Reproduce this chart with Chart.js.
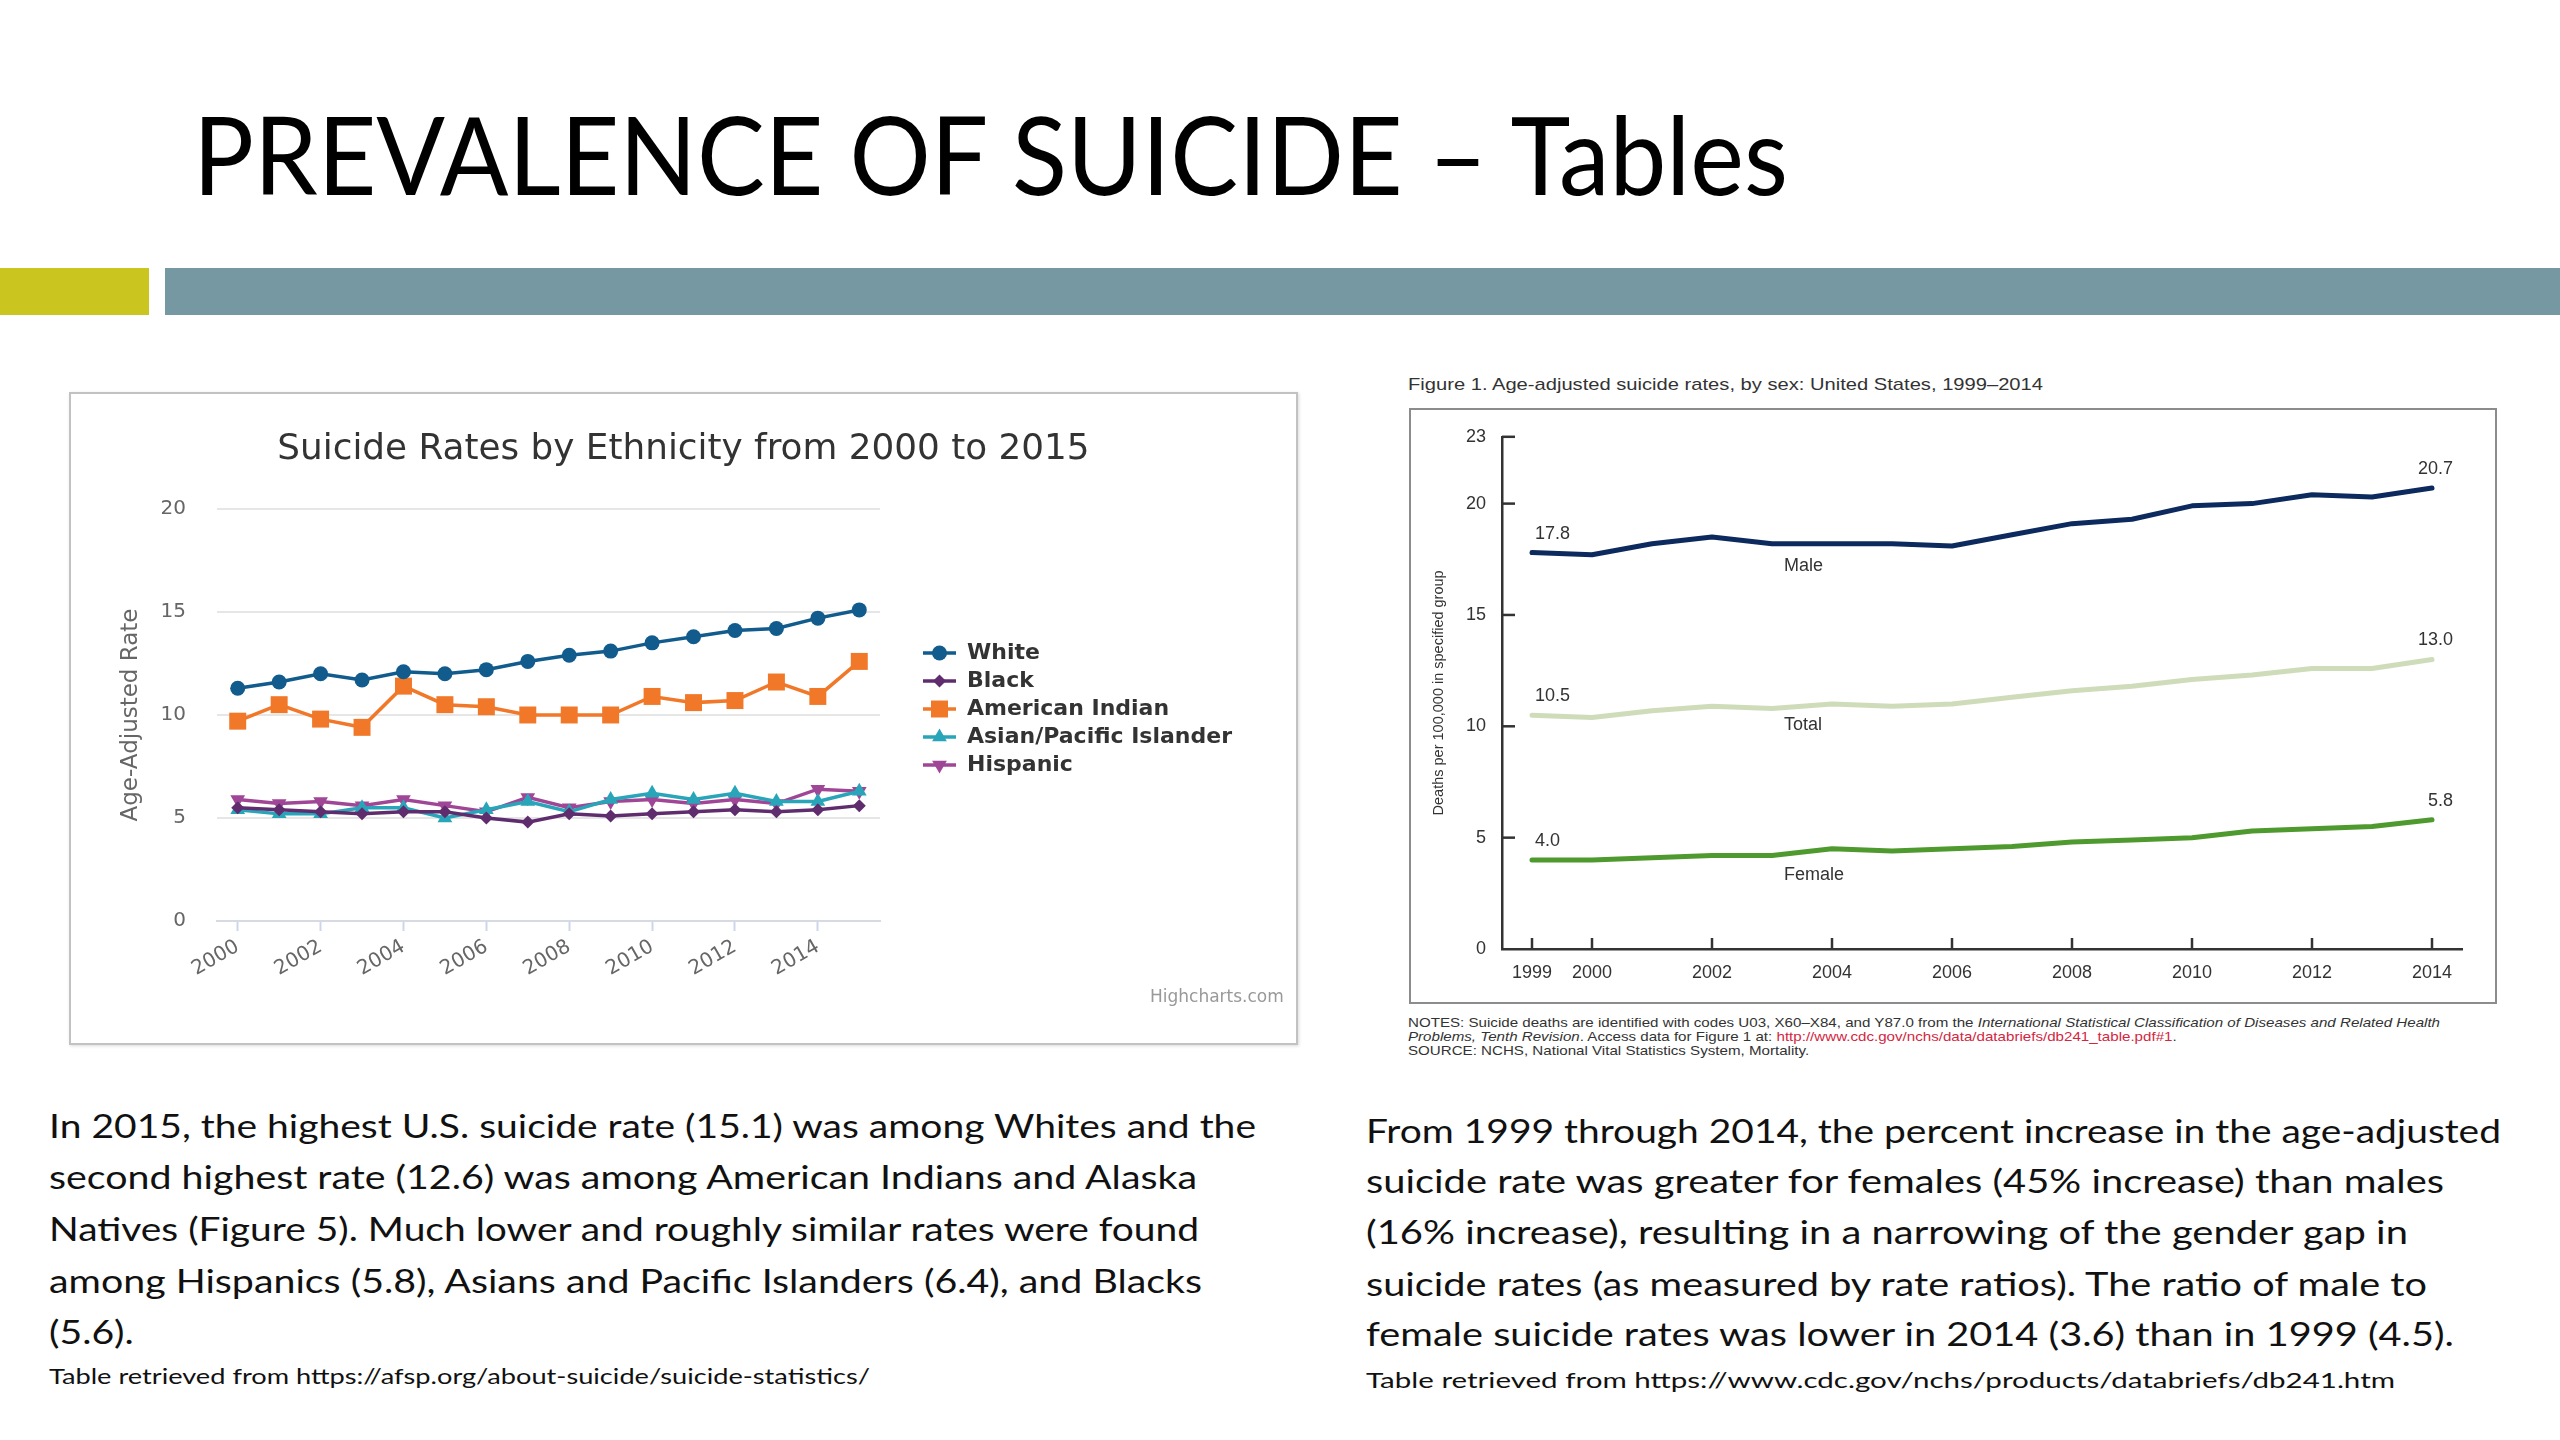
<!DOCTYPE html>
<html><head><meta charset="utf-8">
<script src="https://cdn.jsdelivr.net/npm/chart.js@4.4.1/dist/chart.umd.min.js"></script>
<style>
html,body{margin:0;padding:0;background:#fff;}
body{width:2560px;height:1440px;position:relative;overflow:hidden;font-family:Lato,"Open Sans",sans-serif;color:#111;}
.abs{position:absolute;white-space:nowrap;line-height:1.2;}
.fit{transform-origin:0 50%;}
.p{font-size:33px;color:#111;}
.src{font-size:21px;color:#111;}
.note{font-family:"Liberation Sans",sans-serif;font-size:13px;color:#333;}
</style></head><body>

<div class="abs fit" data-g="title" data-w="1595" style="left:193px;top:89px;font-size:108px;color:#000;">PREVALENCE OF SUICIDE – Tables</div>
<div class="abs" style="left:0;top:268px;width:149px;height:47px;background:#cbc520;"></div>
<div class="abs" style="left:165px;top:268px;width:2395px;height:47px;background:#7698a3;"></div>

<div class="abs" style="left:69px;top:392px;width:1229px;height:653px;box-sizing:border-box;border:2px solid #c2c2c2;box-shadow:1px 1px 3px rgba(0,0,0,0.15);">
  <canvas id="c1" width="1225" height="649" style="position:absolute;left:0;top:0;"></canvas>
</div>
<div class="abs" style="left:1150px;top:986px;font-family:'DejaVu Sans';font-size:17px;color:#999;width:107px;text-align:right;">Highcharts.com</div>

<div class="abs fit note" data-g="cap" data-w="635" style="left:1408px;top:375px;font-size:17px;">Figure 1. Age-adjusted suicide rates, by sex: United States, 1999–2014</div>
<div class="abs" style="left:1409px;top:408px;width:1088px;height:596px;box-sizing:border-box;border:2px solid #8c8c8c;">
  <canvas id="c2" width="1084" height="592" style="position:absolute;left:0;top:0;"></canvas>
</div>
<div class="abs fit note" data-g="note" data-w="1032" style="left:1408px;top:1015px;">NOTES: Suicide deaths are identified with codes U03, X60–X84, and Y87.0 from the <i>International Statistical Classification of Diseases and Related Health</i></div>
<div class="abs fit note" data-g="note" style="left:1408px;top:1029px;"><i>Problems, Tenth Revision</i>. Access data for Figure 1 at: <span style="color:#d3263f">http://www.cdc.gov/nchs/data/databriefs/db241_table.pdf#1</span>.</div>
<div class="abs fit note" data-g="note" style="left:1408px;top:1043px;">SOURCE: NCHS, National Vital Statistics System, Mortality.</div>

<div class="abs fit p" data-g="pl" data-w="1207" style="left:49px;top:1106px;">In 2015, the highest U.S. suicide rate (15.1) was among Whites and the</div>
<div class="abs fit p" data-g="pl" data-w="1148" style="left:49px;top:1157px;">second highest rate (12.6) was among American Indians and Alaska</div>
<div class="abs fit p" data-g="pl" data-w="1150" style="left:49px;top:1209px;">Natives (Figure 5). Much lower and roughly similar rates were found</div>
<div class="abs fit p" data-g="pl" data-w="1153" style="left:49px;top:1261px;">among Hispanics (5.8), Asians and Pacific Islanders (6.4), and Blacks</div>
<div class="abs fit p" data-g="pl" style="left:49px;top:1312px;">(5.6).</div>
<div class="abs fit src" data-g="sl" data-w="821" style="left:49px;top:1363px;">Table retrieved from https://afsp.org/about-suicide/suicide-statistics/</div>

<div class="abs fit p" data-g="pr" data-w="1135" style="left:1366px;top:1111px;">From 1999 through 2014, the percent increase in the age-adjusted</div>
<div class="abs fit p" data-g="pr" data-w="1078" style="left:1366px;top:1161px;">suicide rate was greater for females (45% increase) than males</div>
<div class="abs fit p" data-g="pr" data-w="1042" style="left:1366px;top:1212px;">(16% increase), resulting in a narrowing of the gender gap in</div>
<div class="abs fit p" data-g="pr" data-w="1061" style="left:1366px;top:1264px;">suicide rates (as measured by rate ratios). The ratio of male to</div>
<div class="abs fit p" data-g="pr" data-w="1088" style="left:1366px;top:1314px;">female suicide rates was lower in 2014 (3.6) than in 1999 (4.5).</div>
<div class="abs fit src" data-g="sr" data-w="1029" style="left:1366px;top:1367px;">Table retrieved from https://www.cdc.gov/nchs/products/databriefs/db241.htm</div>

<script>
// ---------- Left chart data (Suicide Rates by Ethnicity) ----------
const years = ['2000','2001','2002','2003','2004','2005','2006','2007','2008','2009','2010','2011','2012','2013','2014','2015'];
const whiteRates    = [11.3, 11.6, 12.0, 11.7, 12.1, 12.0, 12.2, 12.6, 12.9, 13.1, 13.5, 13.8, 14.1, 14.2, 14.7, 15.1];
const blackRates    = [5.5, 5.4, 5.3, 5.2, 5.3, 5.3, 5.0, 4.8, 5.2, 5.1, 5.2, 5.3, 5.4, 5.3, 5.4, 5.6];
const amIndianRates = [9.7, 10.5, 9.8, 9.4, 11.4, 10.5, 10.4, 10.0, 10.0, 10.0, 10.9, 10.6, 10.7, 11.6, 10.9, 12.6];
const asianRates    = [5.4, 5.2, 5.2, 5.5, 5.5, 5.0, 5.4, 5.8, 5.3, 5.9, 6.2, 5.9, 6.2, 5.8, 5.8, 6.3];
const hispanicRates = [5.9, 5.7, 5.8, 5.6, 5.9, 5.6, 5.3, 6.0, 5.5, 5.8, 5.9, 5.7, 5.9, 5.7, 6.4, 6.3];
const seriesNames   = ['White', 'Black', 'American Indian', 'Asian/Pacific Islander', 'Hispanic'];
const leftYTicks    = [0, 5, 10, 15, 20];

// ---------- Right chart data (Age-adjusted suicide rates by sex) ----------
const sexYears    = [1999,2000,2001,2002,2003,2004,2005,2006,2007,2008,2009,2010,2011,2012,2013,2014];
const maleRates   = [17.8, 17.7, 18.2, 18.5, 18.2, 18.2, 18.2, 18.1, 18.6, 19.1, 19.3, 19.9, 20.0, 20.4, 20.3, 20.7];
const totalRates  = [10.5, 10.4, 10.7, 10.9, 10.8, 11.0, 10.9, 11.0, 11.3, 11.6, 11.8, 12.1, 12.3, 12.6, 12.6, 13.0];
const femaleRates = [4.0, 4.0, 4.1, 4.2, 4.2, 4.5, 4.4, 4.5, 4.6, 4.8, 4.9, 5.0, 5.3, 5.4, 5.5, 5.8];
const sexNames    = ['Male', 'Total', 'Female'];
const sexXTicks   = [1999, 2000, 2002, 2004, 2006, 2008, 2010, 2012, 2014];
const sexYTicks   = [0, 5, 10, 15, 20, 23];

// ---------- styles ----------
const leftColors = ['#115b8d', '#5f2d6e', '#f07828', '#29a5b9', '#a04696'];
const leftStyles = [
  {pointStyle:'circle', radius:7.5, rot:0},
  {pointStyle:'rectRot', radius:6.5, rot:0},
  {pointStyle:'rect', radius:12, rot:0},
  {pointStyle:'triangle', radius:8.5, rot:0},
  {pointStyle:'triangle', radius:8.5, rot:180}
];
const sexColors = ['#0c2a5e', '#cfdcba', '#4f9a2f'];

const ICON_MARGIN = 37, ICON_W = 70;
function legendIcon(color, st) {
  const c = document.createElement('canvas');
  c.width = ICON_W; c.height = 24;
  const g = c.getContext('2d');
  g.strokeStyle = color; g.lineWidth = 3.5;
  g.beginPath(); g.moveTo(ICON_MARGIN, 12); g.lineTo(ICON_W, 12); g.stroke();
  g.fillStyle = color;
  const cx = (ICON_MARGIN + ICON_W) / 2, cy = 12, r = st.radius;
  g.beginPath();
  if (st.pointStyle === 'circle') g.arc(cx, cy, r, 0, Math.PI * 2);
  else if (st.pointStyle === 'rect') { const s = r * Math.SQRT1_2; g.rect(cx - s, cy - s, 2 * s, 2 * s); }
  else if (st.pointStyle === 'rectRot') { g.moveTo(cx, cy - r); g.lineTo(cx + r, cy); g.lineTo(cx, cy + r); g.lineTo(cx - r, cy); g.closePath(); }
  else { const d = st.rot ? -1 : 1; g.moveTo(cx, cy - d * r); g.lineTo(cx + r * 0.866, cy + d * r * 0.5); g.lineTo(cx - r * 0.866, cy + d * r * 0.5); g.closePath(); }
  g.fill();
  return c;
}
const legendIcons = leftColors.map((c, i) => legendIcon(c, leftStyles[i]));

const leftSeries = [whiteRates, blackRates, amIndianRates, asianRates, hispanicRates];
const leftDatasets = leftSeries.map((vals, i) => ({
  label: seriesNames[i],
  data: vals,
  borderColor: leftColors[i],
  backgroundColor: leftColors[i],
  borderWidth: 3.5,
  pointStyle: leftStyles[i].pointStyle,
  pointRadius: leftStyles[i].radius,
  pointRotation: leftStyles[i].rot,
  pointBorderWidth: 0,
  tension: 0,
  fill: false
}));

const hl = "DejaVu Sans";
let leftYWidth = 111;
const LEG_PAD = 6;
const leftChart = new Chart(document.getElementById('c1'), {
  type: 'line',
  data: { labels: years, datasets: leftDatasets },
  options: {
    responsive: false, animation: false, devicePixelRatio: 1,
    layout: { padding: { left: 35, right: 35, top: 0, bottom: 0 } },
    plugins: {
      tooltip: { enabled: false },
      title: { display: true, text: 'Suicide Rates by Ethnicity from 2000 to 2015', color: '#333',
               font: { family: hl, size: 35.8, weight: 'normal' }, padding: { top: 34, bottom: 38 } },
      legend: {
        position: 'right', align: 'start', maxWidth: 600,
        title: { display: true, text: '', font: { size: 10 }, padding: { top: 100, bottom: 0 } },
        labels: {
          usePointStyle: true, pointStyleWidth: ICON_W, padding: LEG_PAD, color: '#333',
          font: { family: hl, size: 22, weight: 'bold' },
          generateLabels(chart) {
            const items = Chart.defaults.plugins.legend.labels.generateLabels(chart);
            items.forEach((it, i) => { it.pointStyle = legendIcons[i]; it.rotation = 0; });
            return items;
          }
        }
      }
    },
    scales: {
      x: {
        offset: true,
        grid: { display: true, drawOnChartArea: false, drawTicks: true, tickLength: 10, offset: false,
                tickColor: (ctx) => (ctx.index % 2 === 0 ? '#ccd6eb' : 'rgba(0,0,0,0)'), tickWidth: 2 },
        border: { display: true, color: '#d6dbe3', width: 2 },
        ticks: { autoSkip: false, minRotation: 30, maxRotation: 30, padding: 4, color: '#666',
                 font: { family: hl, size: 20 },
                 callback: function (v, i) { return i % 2 === 0 ? this.getLabelForValue(v) : ''; } },
        afterFit: (s) => { s.height = 122; }
      },
      y: {
        min: 0, max: 20,
        afterBuildTicks: (s) => { s.ticks = leftYTicks.map(v => ({ value: v })); },
        ticks: { padding: 31, color: '#666', font: { family: hl, size: 20 } },
        grid: { color: '#e6e6e6', lineWidth: 2, drawTicks: false },
        border: { display: false },
        title: { display: true, text: 'Age-Adjusted Rate', color: '#666', font: { family: hl, size: 23 },
                 padding: { top: 0, bottom: 0 } },
        afterFit: (s) => { s.width = leftYWidth; }
      }
    }
  }
});
// symmetric side padding so the title stays centred; chart area spans x 146..809 of the canvas
function tuneLeft() {
  const lw = leftChart.legend.width;
  const P = Math.max(0, 1225 - 809 - lw);
  const o = leftChart.config.options;
  o.layout.padding.left = P; o.layout.padding.right = P;
  leftYWidth = 146 - P;
  o.scales.y.title.padding = { top: 60 - P - 23 * 1.2 / 2, bottom: 0 };
  // first legend row top at canvas y 248
  const titleH = 248 - leftChart.legend.top - LEG_PAD;
  o.plugins.legend.title.padding = { top: Math.max(0, titleH - 12), bottom: 0 };
  leftChart.update('none');
}
tuneLeft(); tuneLeft();

// ---------- Right chart ----------
const inwardTicks = {
  id: 'inwardTicks',
  afterDraw(chart) {
    const { ctx, scales: { x, y } } = chart;
    ctx.save(); ctx.strokeStyle = '#333'; ctx.lineWidth = 2.5;
    x.ticks.forEach(t => { const px = x.getPixelForValue(t.value); ctx.beginPath(); ctx.moveTo(px, x.top); ctx.lineTo(px, x.top - 11); ctx.stroke(); });
    y.ticks.forEach(t => { if (t.value === 0) return; const py = y.getPixelForValue(t.value); ctx.beginPath(); ctx.moveTo(y.right, py); ctx.lineTo(y.right + 13, py); ctx.stroke(); });
    ctx.restore();
  }
};
const nameAnchorYear = 2003.2;
const nameOffsets = [22, 21, 26];
const seriesLabels = {
  id: 'seriesLabels',
  afterDatasetsDraw(chart) {
    const { ctx, scales: { x, y } } = chart;
    ctx.save();
    ctx.fillStyle = '#333'; ctx.textBaseline = 'middle';
    ctx.font = '18px "Liberation Sans", Arial, sans-serif';
    chart.data.datasets.forEach((ds, i) => {
      const pts = ds.data;
      const first = pts[0], last = pts[pts.length - 1];
      ctx.textAlign = 'left';
      ctx.fillText(first.y.toFixed(1), x.getPixelForValue(first.x) + 3, y.getPixelForValue(first.y) - 19);
      ctx.textAlign = 'right';
      ctx.fillText(last.y.toFixed(1), x.getPixelForValue(last.x) + 21, y.getPixelForValue(last.y) - 19);
      const mid = pts[5];
      ctx.textAlign = 'left';
      ctx.fillText(ds.label, x.getPixelForValue(nameAnchorYear), y.getPixelForValue(mid.y) + nameOffsets[i]);
    });
    ctx.restore();
  }
};
const sexSeries = [maleRates, totalRates, femaleRates];
const rightChart = new Chart(document.getElementById('c2'), {
  type: 'line',
  data: {
    datasets: sexSeries.map((vals, i) => ({
      label: sexNames[i],
      data: sexYears.map((yr, k) => ({ x: yr, y: vals[k] })),
      borderColor: sexColors[i], borderWidth: 5, pointRadius: 0, tension: 0,
      borderJoinStyle: 'round', borderCapStyle: 'round', fill: false
    }))
  },
  options: {
    responsive: false, animation: false, devicePixelRatio: 1,
    layout: { padding: { left: 10, right: 33, top: 23, bottom: 0 } },
    plugins: { legend: { display: false }, title: { display: false }, tooltip: { enabled: false } },
    scales: {
      x: {
        type: 'linear', min: 1998.5, max: 2014.5,
        afterBuildTicks: (s) => { s.ticks = sexXTicks.map(v => ({ value: v })); },
        ticks: { color: '#333', font: { family: 'Liberation Sans', size: 18 }, padding: 13, autoSkip: false, maxRotation: 0,
                 callback: (v) => String(v) },
        grid: { display: false, drawTicks: false },
        border: { display: true, color: '#333', width: 2.5 },
        afterFit: (s) => { s.height = 53; }
      },
      y: {
        min: 0, max: 23,
        afterBuildTicks: (s) => { s.ticks = sexYTicks.map(v => ({ value: v })); },
        ticks: { color: '#333', font: { family: 'Liberation Sans', size: 18 }, padding: 16, callback: (v) => String(v) },
        grid: { display: false, drawTicks: false },
        border: { display: true, color: '#333', width: 2.5 },
        title: { display: true, text: 'Deaths per 100,000 in specified group', color: '#333',
                 font: { family: '"Liberation Sans", Arial, sans-serif', size: 14.5 }, padding: { top: 9, bottom: 0 } },
        afterFit: (s) => { s.width = 81; }
      }
    }
  },
  plugins: [inwardTicks, seriesLabels]
});

// ---------- fit HTML text widths (per line; lines without a target use their group's mean scale) ----------
function fitText() {
  const groups = {};
  document.querySelectorAll('.fit').forEach(el => {
    const g = el.dataset.g; (groups[g] = groups[g] || []).push(el);
  });
  Object.values(groups).forEach(els => {
    let tw = 0, aw = 0;
    const ks = new Map();
    els.forEach(el => {
      if (el.dataset.w) {
        const w = el.getBoundingClientRect().width;
        tw += +el.dataset.w; aw += w; ks.set(el, +el.dataset.w / w);
      }
    });
    const k = aw ? tw / aw : 1;
    els.forEach(el => { el.style.transform = 'scaleX(' + (ks.get(el) || k).toFixed(4) + ')'; });
  });
}
if (document.fonts && document.fonts.ready) document.fonts.ready.then(fitText); else fitText();
</script>
</body></html>
